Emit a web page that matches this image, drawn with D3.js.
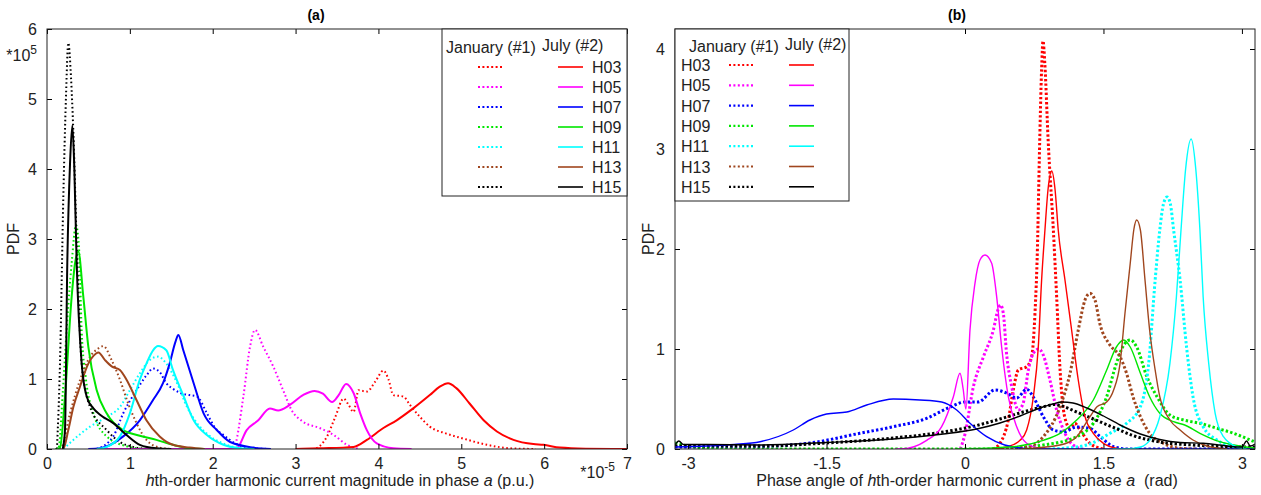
<!DOCTYPE html>
<html>
<head>
<meta charset="utf-8">
<script src="https://cdn.jsdelivr.net/npm/d3@7"></script>
<style>
  body { margin: 0; background: #fff; }
  text { font-family: "Liberation Sans", Arial, sans-serif; }
</style>
</head>
<body>
<svg id="chart" width="1261" height="495"></svg>
<script>
const harmonics = ["H03", "H05", "H07", "H09", "H11", "H13", "H15"];
const magXTicks = [0, 1, 2, 3, 4, 5, 6, 7];
const magYTicks = [0, 1, 2, 3, 4, 5, 6];
const angXTicks = [-3, -1.5, 0, 1.5, 3];
const angYTicks = [0, 1, 2, 3, 4];

// (a) magnitude: x in 1e-5 p.u., PDF in 1e5
const magJanH03 = [[3.1,0],[3.21,0],[3.38,0.18],[3.48,0.46],[3.58,0.72],[3.64,0.63],[3.70,0.53],[3.76,0.84],[3.86,0.82],[3.96,0.96],[4.06,1.12],[4.12,1.0],[4.18,0.77],[4.30,0.75],[4.38,0.63],[4.50,0.46],[4.62,0.32],[4.82,0.22],[5.02,0.15],[5.31,0.06],[5.59,0.01],[5.9,0]];
const magJulH03 = [[3.0,0],[3.29,0.01],[3.70,0.03],[3.86,0.13],[4.06,0.30],[4.22,0.41],[4.42,0.58],[4.62,0.77],[4.74,0.89],[4.84,0.94],[4.94,0.87],[5.10,0.65],[5.27,0.41],[5.43,0.25],[5.63,0.13],[5.87,0.07],[5.99,0.06],[6.19,0.02],[6.5,0.005],[7,0]];
const magJanH05 = [[2.2,0],[2.25,0.01],[2.37,0.75],[2.45,1.46],[2.51,1.70],[2.61,1.46],[2.73,1.18],[2.85,0.84],[2.95,0.56],[3.09,0.39],[3.29,0.30],[3.46,0.2],[3.62,0.06],[3.78,0]];
const magJulH05 = [[0.5,0],[2.2,0],[2.29,0.01],[2.41,0.27],[2.55,0.41],[2.69,0.58],[2.79,0.55],[2.93,0.63],[3.09,0.77],[3.23,0.83],[3.33,0.79],[3.44,0.67],[3.52,0.77],[3.61,0.93],[3.70,0.80],[3.78,0.51],[3.86,0.27],[3.98,0.08],[4.18,0.01],[4.4,0]];
const magJanH07 = [[0.6,0],[0.80,0.18],[0.92,0.51],[1.08,0.84],[1.20,1.05],[1.28,1.15],[1.36,1.1],[1.44,0.94],[1.52,0.86],[1.61,0.80],[1.72,0.77],[1.81,0.75],[1.93,0.51],[2.03,0.30],[2.13,0.2],[2.29,0.07],[2.5,0.01],[2.7,0]];
const magJulH07 = [[0.5,0],[0.64,0.01],[0.92,0.18],[1.12,0.41],[1.28,0.70],[1.40,0.94],[1.48,1.22],[1.55,1.53],[1.585,1.63],[1.645,1.41],[1.77,0.94],[1.89,0.51],[2.05,0.27],[2.21,0.10],[2.49,0.02],[2.7,0]];
const magJanH09 = [[0.1,0],[0.14,0.02],[0.19,0.8],[0.237,1.70],[0.298,2.66],[0.35,3.2],[0.39,2.8],[0.418,1.7],[0.47,1.0],[0.56,0.51],[0.72,0.18],[0.96,0.04],[1.2,0]];
const magJulH09 = [[0.12,0],[0.157,0.02],[0.217,0.75],[0.298,2.18],[0.338,2.65],[0.378,2.82],[0.438,2.18],[0.499,1.46],[0.60,0.84],[0.72,0.51],[0.92,0.27],[1.12,0.19],[1.32,0.13],[1.52,0.06],[1.72,0.01],[1.9,0]];
const magJanH11 = [[0.2,0],[0.318,0.13],[0.52,0.32],[0.72,0.46],[0.88,0.60],[1.0,0.84],[1.12,1.08],[1.24,1.27],[1.34,1.32],[1.44,1.22],[1.57,0.94],[1.69,0.60],[1.81,0.37],[1.97,0.18],[2.17,0.06],[2.4,0]];
const magJulH11 = [[0.6,0],[0.72,0.03],[0.88,0.18],[1.0,0.51],[1.12,0.99],[1.20,1.22],[1.28,1.41],[1.34,1.47],[1.44,1.41],[1.52,1.13],[1.65,0.75],[1.77,0.41],[1.93,0.2],[2.13,0.06],[2.33,0.01],[2.5,0]];
const magJanH13 = [[0.15,0],[0.18,0.03],[0.278,0.51],[0.40,0.99],[0.52,1.32],[0.60,1.42],[0.68,1.47],[0.78,1.27],[0.88,0.99],[0.98,0.65],[1.08,0.37],[1.20,0.13],[1.36,0.02],[1.5,0]];
const magJulH13 = [[0.18,0],[0.2,0.01],[0.257,0.27],[0.318,0.60],[0.398,0.89],[0.499,1.22],[0.56,1.33],[0.62,1.38],[0.70,1.27],[0.78,1.18],[0.88,1.13],[0.96,0.99],[1.08,0.70],[1.20,0.41],[1.36,0.18],[1.52,0.06],[1.72,0.02],[1.9,0]];
const magJanH15 = [[0.12,0],[0.157,1.23],[0.197,3.6],[0.229,5.03],[0.257,5.80],[0.29,5.3],[0.317,4.56],[0.366,2.66],[0.418,1.23],[0.52,0.6],[0.72,0.27],[0.88,0.1],[1.04,0.03],[1.2,0]];
const magJulH15 = [[0.19,0],[0.217,0.27],[0.245,2.66],[0.278,4.08],[0.306,4.62],[0.33,4.0],[0.358,2.66],[0.418,1.23],[0.479,0.75],[0.56,0.58],[0.64,0.49],[0.80,0.37],[0.96,0.2],[1.12,0.06],[1.32,0.01],[1.5,0]];

// (b) phase angle in rad
const angJanH03 = [[0.3,0],[0.379,0.057],[0.469,0.29],[0.523,0.59],[0.578,0.79],[0.668,0.823],[0.722,0.923],[0.758,1.357],[0.785,2.02],[0.805,2.9],[0.83,3.8],[0.845,4.08],[0.865,3.85],[0.90,3.1],[0.957,2.19],[0.993,1.52],[1.03,0.79],[1.08,0.32],[1.138,0.207],[1.19,0.257],[1.246,0.19],[1.354,0.057],[1.5,0]];
const angJulH03 = [[0.3,0],[0.45,0.02],[0.596,0.087],[0.668,0.19],[0.74,0.52],[0.794,1.02],[0.83,1.69],[0.866,2.19],[0.90,2.6],[0.94,2.78],[0.975,2.6],[1.01,2.19],[1.083,1.69],[1.155,1.19],[1.227,0.69],[1.30,0.323],[1.39,0.157],[1.5,0.057],[1.68,0]];
const angJanH05 = [[-0.05,0],[0.0,0.15],[0.09,0.62],[0.20,0.923],[0.307,1.19],[0.36,1.40],[0.385,1.44],[0.415,1.357],[0.45,0.957],[0.506,0.623],[0.578,0.39],[0.63,0.457],[0.686,0.79],[0.74,0.957],[0.80,1.0],[0.848,0.94],[0.92,0.69],[0.993,0.39],[1.067,0.19],[1.17,0.04],[1.28,0]];
const angJulH05 = [[-0.75,0],[-0.70,0],[-0.415,0.087],[-0.253,0.223],[-0.126,0.523],[-0.054,0.757],[-0.02,0.6],[0.01,0.4],[0.054,1.19],[0.108,1.657],[0.162,1.89],[0.217,1.94],[0.289,1.857],[0.343,1.523],[0.397,1.02],[0.469,0.523],[0.56,0.223],[0.668,0.057],[0.812,0.007],[0.9,0]];
const angJanH07 = [[-3.1416,0.02],[-2.6,0.02],[-2.22,0.025],[-1.68,0.06],[-1.14,0.157],[-0.777,0.223],[-0.415,0.307],[-0.16,0.42],[0.0,0.47],[0.14,0.47],[0.325,0.59],[0.45,0.56],[0.56,0.51],[0.668,0.597],[0.74,0.52],[0.848,0.323],[0.957,0.19],[1.067,0.17],[1.21,0.22],[1.35,0.207],[1.466,0.123],[1.61,0.023],[1.76,0],[3.1416,0]];
const angJulH07 = [[-3.1416,0.02],[-2.8,0.03],[-2.5,0.045],[-2.22,0.073],[-1.86,0.19],[-1.68,0.29],[-1.50,0.35],[-1.28,0.37],[-1.065,0.44],[-0.777,0.50],[-0.488,0.49],[-0.253,0.47],[-0.09,0.39],[0.054,0.257],[0.235,0.123],[0.43,0.04],[0.74,0],[3.1416,0]];
const angJanH09 = [[-3.1416,0.06],[-3.0,0.03],[-2.6,0],[0.307,0],[0.848,0.04],[1.21,0.123],[1.39,0.257],[1.535,0.523],[1.64,0.857],[1.72,1.04],[1.79,1.09],[1.86,1.02],[1.97,0.723],[2.08,0.523],[2.22,0.34],[2.37,0.29],[2.545,0.257],[2.73,0.207],[2.91,0.157],[3.09,0.09],[3.1416,0.07]];
const angJulH09 = [[-0.1,0],[0.487,0.02],[0.848,0.087],[1.03,0.157],[1.21,0.29],[1.39,0.49],[1.535,0.79],[1.64,1.02],[1.72,1.09],[1.79,1.02],[1.90,0.757],[2.0,0.523],[2.11,0.357],[2.26,0.273],[2.38,0.24],[2.545,0.157],[2.76,0.073],[2.98,0.03],[3.1416,0.01]];
const angJanH11 = [[0.9,0],[1.03,0.005],[1.32,0.04],[1.57,0.157],[1.75,0.257],[1.90,0.423],[1.99,0.857],[2.06,1.69],[2.11,2.19],[2.15,2.45],[2.19,2.52],[2.225,2.45],[2.26,2.19],[2.33,1.69],[2.40,1.02],[2.47,0.523],[2.58,0.223],[2.73,0.09],[2.91,0.023],[3.05,0]];
const angJulH11 = [[1.6,0],[1.75,0],[1.90,0.02],[2.0,0.087],[2.11,0.323],[2.22,0.857],[2.29,1.52],[2.34,2.19],[2.39,2.8],[2.45,3.1],[2.50,2.8],[2.545,2.19],[2.58,1.52],[2.64,0.857],[2.71,0.357],[2.80,0.123],[2.94,0.023],[3.05,0]];
const angJanH13 = [[0.3,0],[0.668,0.02],[0.848,0.123],[1.03,0.423],[1.138,0.757],[1.227,1.19],[1.30,1.49],[1.354,1.557],[1.408,1.49],[1.46,1.257],[1.57,1.04],[1.68,0.923],[1.75,0.757],[1.82,0.523],[1.90,0.323],[2.0,0.157],[2.15,0.057],[2.33,0.007],[2.5,0]];
const angJulH13 = [[0.6,0],[1.03,0.04],[1.21,0.123],[1.354,0.323],[1.43,0.423],[1.535,0.47],[1.61,0.59],[1.68,0.857],[1.733,1.357],[1.79,1.857],[1.83,2.2],[1.86,2.29],[1.90,2.19],[1.95,1.69],[2.0,1.19],[2.06,0.79],[2.11,0.523],[2.22,0.29],[2.33,0.19],[2.47,0.09],[2.62,0.03],[2.84,0]];
const angJanH15 = [[-3.1416,0.03],[-2.6,0.03],[-2.22,0.03],[-1.5,0.06],[-0.777,0.11],[-0.235,0.17],[0.126,0.235],[0.379,0.30],[0.668,0.38],[0.884,0.43],[0.97,0.445],[1.03,0.435],[1.21,0.37],[1.39,0.30],[1.61,0.215],[1.82,0.135],[2.11,0.07],[2.47,0.04],[2.84,0.023],[3.1416,0.02]];
const angJulH15 = [[-3.1416,0.04],[-3.1,0.08],[-3.05,0.045],[-2.8,0.045],[-2.22,0.04],[-1.50,0.065],[-0.777,0.10],[-0.235,0.15],[0.126,0.2],[0.379,0.26],[0.596,0.33],[0.812,0.41],[0.95,0.45],[1.05,0.47],[1.17,0.46],[1.32,0.41],[1.50,0.33],[1.68,0.24],[1.90,0.15],[2.11,0.095],[2.33,0.065],[2.58,0.057],[2.76,0.04],[2.91,0.023],[3.0,0.02],[3.05,0.08],[3.09,0.03],[3.1416,0.05]];

const lineColors = ["#ff0000", "#ff00ff", "#0000ff", "#00e600", "#00ffff", "#a0461e", "#000000"];

const svg = d3.select("#chart");
const fontSize = 16;

const panels = [
  {
    id: "a", x0: 47, x1: 627, y0: 29, y1: 449,
    xDomain: [0, 7], yDomain: [0, 6], xTicks: magXTicks, yTicks: magYTicks,
    jan: [magJanH03, magJanH05, magJanH07, magJanH09, magJanH11, magJanH13, magJanH15],
    jul: [magJulH03, magJulH05, magJulH07, magJulH09, magJulH11, magJulH13, magJulH15],
    dotWidth: 2, dash: "1.6 2.6", solidWidth: 2, title: "(a)", titleX: 316, pdfX: 19
  },
  {
    id: "b", x0: 675, x1: 1255, y0: 29, y1: 449,
    xDomain: [-Math.PI, Math.PI], yDomain: [0, 4.2], xTicks: angXTicks, yTicks: angYTicks,
    jan: [angJanH03, angJanH05, angJanH07, angJanH09, angJanH11, angJanH13, angJanH15],
    jul: [angJulH03, angJulH05, angJulH07, angJulH09, angJulH11, angJulH13, angJulH15],
    dotWidth: 3, dash: "2.4 2.2", solidWidth: 1.4, title: "(b)", titleX: 957, pdfX: 654
  }
];

function drawPanel(p) {
  const x = d3.scaleLinear().domain(p.xDomain).range([p.x0, p.x1]);
  const y = d3.scaleLinear().domain(p.yDomain).range([p.y1, p.y0]);

  svg.append("clipPath").attr("id", "clip-" + p.id)
    .append("rect")
    .attr("x", p.x0).attr("y", p.y0)
    .attr("width", p.x1 - p.x0).attr("height", p.y1 - p.y0);

  const g = svg.append("g").attr("clip-path", "url(#clip-" + p.id + ")");
  const line = d3.line()
    .x(d => x(d[0]))
    .y(d => y(d[1]))
    .curve(d3.curveMonotoneX);

  p.jan.forEach((s, i) => {
    g.append("path")
      .attr("d", line(s))
      .attr("fill", "none")
      .attr("stroke", lineColors[i])
      .attr("stroke-width", p.dotWidth)
      .attr("stroke-dasharray", p.dash);
  });
  p.jul.forEach((s, i) => {
    g.append("path")
      .attr("d", line(s))
      .attr("fill", "none")
      .attr("stroke", lineColors[i])
      .attr("stroke-width", p.solidWidth);
  });

  // axes, ticks pointing inwards
  const fmt = d => String(d);
  const styleAxis = sel => {
    sel.select(".domain").remove();
    sel.selectAll(".tick line").attr("stroke", "#000");
    sel.selectAll("text").attr("font-size", fontSize).attr("fill", "#222")
      .attr("font-family", '"Liberation Sans", Arial, sans-serif');
  };
  svg.append("g").attr("transform", "translate(0," + p.y1 + ")")
    .call(d3.axisBottom(x).tickValues(p.xTicks).tickSize(-5).tickPadding(9).tickFormat(fmt))
    .call(styleAxis);
  svg.append("g").attr("transform", "translate(0," + p.y0 + ")")
    .call(d3.axisTop(x).tickValues(p.xTicks).tickSize(-5).tickFormat(""))
    .call(styleAxis);
  svg.append("g").attr("transform", "translate(" + p.x0 + ",0)")
    .call(d3.axisLeft(y).tickValues(p.yTicks).tickSize(-5).tickPadding(10).tickFormat(fmt))
    .call(styleAxis);
  svg.append("g").attr("transform", "translate(" + p.x1 + ",0)")
    .call(d3.axisRight(y).tickValues(p.yTicks).tickSize(-5).tickFormat(""))
    .call(styleAxis);

  svg.append("rect")
    .attr("x", p.x0).attr("y", p.y0)
    .attr("width", p.x1 - p.x0).attr("height", p.y1 - p.y0)
    .attr("fill", "none").attr("stroke", "#222").attr("stroke-width", 1);

  svg.append("text")
    .attr("x", p.titleX).attr("y", 20)
    .attr("text-anchor", "middle")
    .attr("font-size", 14).attr("font-weight", "bold")
    .text(p.title);

  svg.append("text")
    .attr("transform", "translate(" + p.pdfX + "," + ((p.y0 + p.y1) / 2) + ") rotate(-90)")
    .attr("text-anchor", "middle")
    .attr("font-size", fontSize).attr("fill", "#222")
    .text("PDF");
}

panels.forEach(drawPanel);

// exponent notes of panel (a)
const e5 = svg.append("text").attr("x", 37).attr("y", 61).attr("text-anchor", "end")
  .attr("font-size", fontSize).attr("fill", "#222");
e5.append("tspan").text("*10");
e5.append("tspan").attr("dy", -7).attr("font-size", 12).text("5");

const em5 = svg.append("text").attr("x", 615).attr("y", 478).attr("text-anchor", "end")
  .attr("font-size", fontSize).attr("fill", "#222");
em5.append("tspan").text("*10");
em5.append("tspan").attr("dy", -7).attr("font-size", 12).text("-5");

// x-axis labels
const xlA = svg.append("text").attr("x", 340).attr("y", 486).attr("text-anchor", "middle")
  .attr("font-size", fontSize).attr("fill", "#222");
xlA.append("tspan").attr("font-style", "italic").text("h");
xlA.append("tspan").text("th-order harmonic current magnitude in phase ");
xlA.append("tspan").attr("font-style", "italic").text("a");
xlA.append("tspan").text(" (p.u.)");

const xlB = svg.append("text").attr("x", 967).attr("y", 486).attr("text-anchor", "middle")
  .attr("font-size", fontSize).attr("fill", "#222");
xlB.append("tspan").text("Phase angle of ");
xlB.append("tspan").attr("font-style", "italic").text("h");
xlB.append("tspan").text("th-order harmonic current in phase ");
xlB.append("tspan").attr("font-style", "italic").text("a");
xlB.append("tspan").text("\u00a0 (rad)");

// legends
function drawLegend(L) {
  const lg = svg.append("g");
  lg.append("rect")
    .attr("x", L.x).attr("y", L.y).attr("width", L.w).attr("height", L.h)
    .attr("fill", "#fff").attr("stroke", "#222").attr("stroke-width", 1);
  lg.append("text").attr("x", L.janX).attr("y", L.headY).attr("font-size", fontSize)
    .attr("fill", "#222").text("January (#1)");
  lg.append("text").attr("x", L.julX).attr("y", L.headY - 2).attr("font-size", fontSize)
    .attr("fill", "#222").text("July (#2)");
  harmonics.forEach((h, i) => {
    const ry = L.rowY + i * L.rowGap;
    lg.append("text").attr("x", L.labelX).attr("y", ry + 6).attr("font-size", fontSize)
      .attr("fill", "#222").text(h);
    lg.append("line").attr("x1", L.dot[0]).attr("x2", L.dot[1]).attr("y1", ry).attr("y2", ry)
      .attr("stroke", lineColors[i]).attr("stroke-width", 2.2).attr("stroke-dasharray", "2 2.4");
    lg.append("line").attr("x1", L.sol[0]).attr("x2", L.sol[1]).attr("y1", ry).attr("y2", ry)
      .attr("stroke", lineColors[i]).attr("stroke-width", 1.6);
  });
}

drawLegend({ x: 442, y: 29, w: 185, h: 167, janX: 446, julX: 542, headY: 53,
  rowY: 67, rowGap: 20, labelX: 592, dot: [478, 503], sol: [558, 583] });
drawLegend({ x: 675, y: 29, w: 174, h: 172, janX: 689, julX: 785, headY: 52,
  rowY: 65, rowGap: 20.3, labelX: 681, dot: [729, 755], sol: [789, 814] });
</script>
</body>
</html>
